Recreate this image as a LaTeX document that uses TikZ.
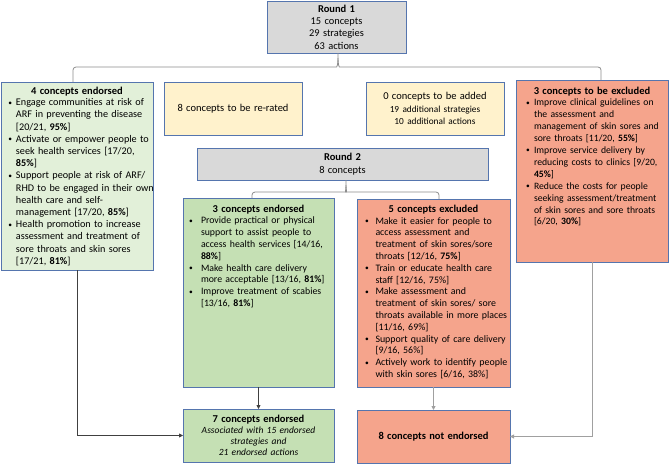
\documentclass[tikz,border=0pt]{standalone}
\usepackage{fontspec}
\setmainfont{Carlito}
\usetikzlibrary{arrows.meta,calc}
\definecolor{bordc}{HTML}{5575AE}
\definecolor{grayf}{HTML}{D9D9D9}
\definecolor{lgreen}{HTML}{E2F0D9}
\definecolor{mgreen}{HTML}{C5E0B4}
\definecolor{yellowf}{HTML}{FFF2CC}
\definecolor{salmon}{HTML}{F5A48C}
\definecolor{connd}{HTML}{404040}
\definecolor{connl}{HTML}{A0A0A0}
\definecolor{braceg}{HTML}{8C8C8C}
\newcommand{\fsz}[2]{\fontsize{#1}{#2}\selectfont}
\newlength{\bulx}\newlength{\txtx}\newlength{\bsk}
\newcommand{\bdot}{\raisebox{0.6pt}{\fontsize{7.5}{7.5}\selectfont\textbullet}}
\newcommand{\bit}[1]{\par\setlength{\bsk}{\baselineskip}\noindent\hspace*{\bulx}\rlap{\makebox[\dimexpr\txtx-\bulx\relax][l]{\bdot}\parbox[t]{200pt}{\baselineskip=\bsk\raggedright\strut #1\strut}}\par\prevdepth=\dp\strutbox}
\newcommand{\hd}[1]{{\centering\fsz{10.5}{12}\bfseries\rule{0pt}{8pt}#1\par}}
\begin{document}
\begin{tikzpicture}[x=1pt,y=-1pt,
  box/.style={draw=bordc, line width=0.9pt, inner sep=0pt, outer sep=0pt},
  txt/.style={inner sep=0pt, outer sep=0pt, anchor=north west, align=left},
  ctext/.style={align=center},
  brace/.style={draw=braceg, line width=0.8pt},
  arrD/.style={draw=connd, line width=0.8pt, -{Triangle[length=4pt,width=4pt]}},
  arrL/.style={draw=connl, line width=0.9pt, -{Triangle[length=4pt,width=4pt]}}]
\useasboundingbox (0,0) rectangle (669,464);

% Round 1
\node[box, fill=grayf, minimum width=139pt, minimum height=52pt, text width=139pt, ctext] (r1) at (336.5,27)
  {{\fsz{10.5}{12.4}\bfseries Round 1\par}{\fsz{10.4}{12.4}15 concepts\par 29 strategies\par 63 actions\par}};

% Round 1 outcome boxes
\node[box, fill=lgreen, minimum width=152pt, minimum height=188pt] (e4) at (77,176) {};
\node[box, fill=yellowf, minimum width=138pt, minimum height=53pt, text width=138pt, ctext] (rerate) at (233,108.5)
  {\fsz{10.5}{12.4}8 concepts to be re-rated};
\node[box, fill=yellowf, minimum width=138pt, minimum height=53pt, text width=138pt, ctext] (added) at (435,108.5)
  {{\fsz{10.5}{12.3}0 concepts to be added\par}{\fsz{9.3}{12.2}19 additional strategies\par 10 additional actions\par}};
\node[box, fill=salmon, minimum width=152pt, minimum height=182pt] (ex3) at (592,171) {};

% Round 2
\node[box, fill=grayf, minimum width=291pt, minimum height=32pt, text width=291pt, ctext] (r2) at (342.5,164)
  {{\fsz{10.5}{13.5}\bfseries Round 2\par}{\fsz{10.4}{13.5}8 concepts\par}};
\node[box, fill=mgreen, minimum width=151pt, minimum height=189pt] (e3) at (258.5,292.5) {};
\node[box, fill=salmon, minimum width=153pt, minimum height=188pt] (x5) at (433.5,293) {};

% Final
\node[box, fill=mgreen, minimum width=151pt, minimum height=53pt, text width=151pt, ctext] (e7) at (258.5,435.5)
  {{\fsz{10.5}{12.4}\bfseries 7 concepts endorsed\par}{\fsz{9.5}{11.2}\itshape Associated with 15 endorsed\par strategies and\par 21 endorsed actions\par}};
\node[box, fill=salmon, minimum width=153pt, minimum height=53pt, text width=153pt, ctext] (ne8) at (433.5,436.5)
  {\fsz{10.5}{12.4}\bfseries 8 concepts not endorsed};

% Texts of bullet boxes
\node[txt, text width=152pt] (e4t) at ($(e4.north west)+(0,4.7)$)
  {\fsz{10.2}{12.2}\setlength{\bulx}{7.3pt}\setlength{\txtx}{15pt}%
   \hd{4 concepts endorsed}\vspace{-1.2pt}
   \bit{Engage communities at risk of\\ ARF in preventing the disease\\{}[20/21, \textbf{95\%}]}
   \bit{Activate or empower people to\\ seek health services [17/20,\\ \textbf{85\%}]}
   \bit{Support people at risk of ARF/\\ RHD to be engaged in their own\\ health care and self-\\ management [17/20, \textbf{85\%}]}
   \bit{Health promotion to increase\\ assessment and treatment of\\ sore throats and skin sores\\{}[17/21, \textbf{81\%}]}};

\node[txt, text width=152pt] (ex3t) at ($(ex3.north west)+(0,6)$)
  {\fsz{9.7}{11.9}\setlength{\bulx}{10pt}\setlength{\txtx}{18pt}%
   \hd{3 concepts to be excluded}
   \bit{Improve clinical guidelines on\\ the assessment and\\ management of skin sores and\\ sore throats [11/20, \textbf{55\%}]}
   \bit{Improve service delivery by\\ reducing costs to clinics [9/20,\\ \textbf{45\%}]}
   \bit{Reduce the costs for people\\ seeking assessment/treatment\\ of skin sores and sore throats\\{}[6/20, \textbf{30\%}]}};

\node[txt, text width=151pt] (e3t) at ($(e3.north west)+(0,6)$)
  {\fsz{9.8}{11.8}\setlength{\bulx}{6pt}\setlength{\txtx}{18pt}%
   \hd{3 concepts endorsed}
   \bit{Provide practical or physical\\ support to assist people to\\ access health services [14/16,\\ \textbf{88\%}]}
   \bit{Make health care delivery\\ more acceptable [13/16, \textbf{81\%}]}
   \bit{Improve treatment of scabies\\{}[13/16, \textbf{81\%}]}};

\node[txt, text width=153pt] (x5t) at ($(x5.north west)+(0,5.3)$)
  {\fsz{9.9}{11.8}\setlength{\bulx}{8pt}\setlength{\txtx}{18.5pt}%
   \hd{5 concepts excluded}
   \bit{Make it easier for people to\\ access assessment and\\ treatment of skin sores/sore\\ throats [12/16, \textbf{75\%}]}
   \bit{Train or educate health care\\ staff [12/16, 75\%]}
   \bit{Make assessment and\\ treatment of skin sores/ sore\\ throats available in more places\\{}[11/16, 69\%]}
   \bit{Support quality of care delivery\\{}[9/16, 56\%]}
   \bit{Actively work to identify people\\ with skin sores [6/16, 38\%]}};

% Brace from Round 1
\coordinate (pk1) at ($(r1.south)+(1.5,5)$);
\draw[brace] ($(e4.north)+(-4,0)$) [rounded corners=3pt] |- ($(r1.south)+(-3,14)$) [sharp corners]
  .. controls ($(r1.south)+(0.5,14)$) and ($(r1.south)+(1.5,11)$) .. (pk1) -- ($(r1.south)+(1.5,0)$);
\draw[brace] ($(ex3.north)+(9,0)$) [rounded corners=3pt] |- ($(r1.south)+(6,14)$) [sharp corners]
  .. controls ($(r1.south)+(2.5,14)$) and ($(r1.south)+(1.5,11)$) .. (pk1);

% Brace from Round 2
\coordinate (pk2) at ($(r2.south)+(3.5,5)$);
\draw[brace] ($(e3.north)+(-6.5,0)$) [rounded corners=3pt] |- ($(r2.south)+(0.5,12)$) [sharp corners]
  .. controls ($(r2.south)+(2.5,12)$) and ($(r2.south)+(3.5,9)$) .. (pk2) -- ($(r2.south)+(3.5,0)$);
\draw[brace] ($(x5.north)+(5.5,0)$) [rounded corners=3pt] |- ($(r2.south)+(6.5,12)$) [sharp corners]
  .. controls ($(r2.south)+(4.5,12)$) and ($(r2.south)+(3.5,9)$) .. (pk2);

% Arrows
\draw[arrD] (e3.south) -- (e7.north);
\draw[arrL] (x5.south) -- (ne8.north);
\draw[arrD] (e4.south) |- (e7.west);
\draw[arrL] (ex3.south) |- (ne8.east);
\end{tikzpicture}
\end{document}
